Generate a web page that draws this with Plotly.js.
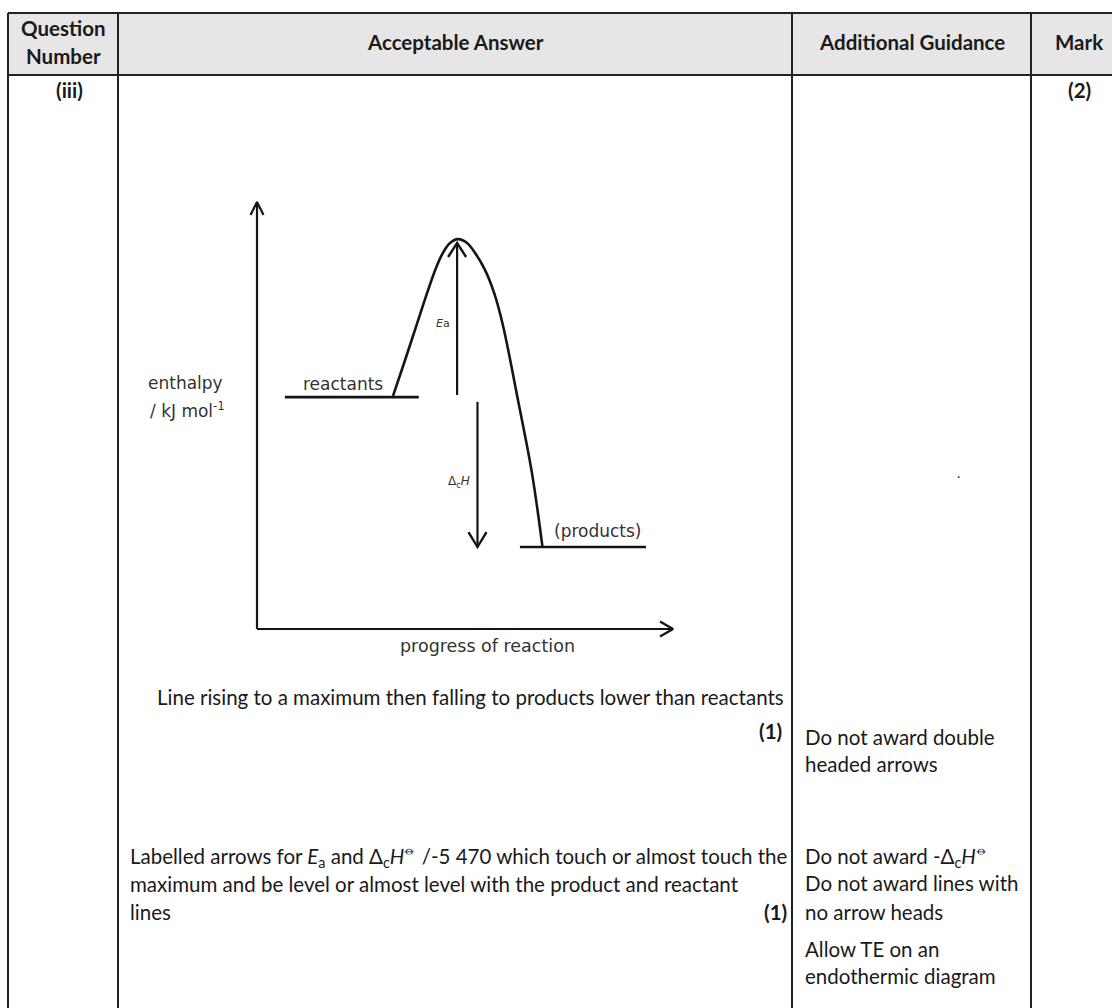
<!DOCTYPE html>
<html><head><meta charset="utf-8">
<script src="https://cdn.plot.ly/plotly-3.0.1.min.js"></script>
<style>html,body{margin:0;padding:0;background:#fff}</style>
</head><body><div id="chart" style="width:1112px;height:1008px"></div>
<script>
// ---- Diagram data (progress of reaction 0-10, enthalpy 0-10, arbitrary units) ----
const curveProgress  = [3.27, 3.56, 3.82, 4.09, 4.30, 4.47, 4.64, 4.83, 5.05, 5.26, 5.48, 5.70, 5.91, 6.26, 6.61, 6.86];
const curveEnthalpy  = [5.46, 6.30, 7.07, 7.87, 8.45, 8.81, 9.04, 9.13, 9.04, 8.78, 8.41, 7.87, 7.12, 5.43, 3.65, 1.94];
const reactantsProgress = [0.67, 3.89];
const reactantsEnthalpy = [5.43, 5.43];
const productsProgress  = [6.32, 9.35];
const productsEnthalpy  = [1.92, 1.92];
const eaArrowProgress = [4.81, 4.81];
const eaArrowEnthalpy = [5.48, 9.04];
const dhArrowProgress = [5.30, 5.30];
const dhArrowEnthalpy = [5.32, 1.92];
const axisMax = [10, 10];

// ---- Table texts ----
const headerLabels = ["Acceptable Answer", "Additional Guidance", "Mark"];
const headerQuestion = ["Question", "Number"];
const questionNumber = "(iii)";
const totalMark = "(2)";
const answer1 = "Line rising to a maximum then falling to products lower than reactants";
const answer2 = ["Labelled arrows for <i>E</i><sub>a</sub> and Δ<sub>c</sub><i>H</i><sup>⦵</sup> /-5 470 which touch or almost touch the",
                 "maximum and be level or almost level with the product and reactant",
                 "lines"];
const markLabel = "(1)";
const guidance1 = ["Do not award double", "headed arrows"];
const guidance2 = ["Do not award -Δ<sub>c</sub><i>H</i><sup>⦵</sup>", "Do not award lines with", "no arrow heads", "Allow TE on an", "endothermic diagram"];

// ---- Layout geometry (pixels) ----
const W = 1112, H = 1008;
const px = v => v / W, py = v => 1 - v / H;
const plotL = 257, plotR = 673, plotT = 202, plotB = 629;
const unitX = (plotR - plotL) / axisMax[0];
const unitY = (plotB - plotT) / axisMax[1];
const pad = 1; // range padding (units) so arrow heads are not clipped

const ink = '#151515';
function chevron(tipX, tipY, dirX, dirY, len, half) {
  const bx = -dirX * len, by = -dirY * len;
  const nx = -dirY * half, ny = dirX * half;
  const w1 = [bx + nx, by + ny], w2 = [bx - nx, by - ny];
  return {
    x: [tipX + w1[0] / unitX, tipX, tipX + w2[0] / unitX],
    y: [tipY - w1[1] / unitY, tipY, tipY - w2[1] / unitY]
  };
}
function lineTrace(x, y, w, extra) {
  return Object.assign({x, y, type: 'scatter', mode: 'lines', xaxis: 'x', yaxis: 'y',
    line: {color: ink, width: w}, hoverinfo: 'skip', showlegend: false}, extra || {});
}

const yTip = chevron(0, axisMax[1], 0, -1, 13, 6.5);
const xTip = chevron(axisMax[0], 0, 1, 0, 13, 7.5);
const eaTip = chevron(eaArrowProgress[1], eaArrowEnthalpy[1], 0, -1, 14, 9);
const dhTip = chevron(dhArrowProgress[1], dhArrowEnthalpy[1], 0, 1, 15, 9);

const traces = [
  lineTrace([0, 0], [0, axisMax[1]], 2.2),
  lineTrace([0, axisMax[0]], [0, 0], 2.2),
  lineTrace(yTip.x, yTip.y, 2.2),
  lineTrace(xTip.x, xTip.y, 2.4),
  lineTrace(reactantsProgress, reactantsEnthalpy, 2.6),
  lineTrace(productsProgress, productsEnthalpy, 2.6),
  lineTrace(curveProgress, curveEnthalpy, 2.6, {line: {color: ink, width: 2.6, shape: 'spline', smoothing: 1}}),
  lineTrace(eaArrowProgress, eaArrowEnthalpy, 2.2),
  lineTrace(eaTip.x, eaTip.y, 2.4),
  lineTrace(dhArrowProgress, dhArrowEnthalpy, 2.2),
  lineTrace(dhTip.x, dhTip.y, 2.4)
];

// ---- Table shapes ----
const border = '#222';
const colX = [8, 118, 792, 1031, 1127];
const topY = 13, headY = 75;
const shapes = [
  {type: 'rect', xref: 'paper', yref: 'paper', x0: px(colX[0]), x1: px(1112), y0: py(topY), y1: py(headY),
   fillcolor: '#e6e6e6', line: {width: 0}, layer: 'below'},
  {type: 'line', xref: 'paper', yref: 'paper', x0: px(colX[0]), x1: px(1112), y0: py(topY), y1: py(topY), line: {color: border, width: 2}},
  {type: 'line', xref: 'paper', yref: 'paper', x0: px(colX[0]), x1: px(1112), y0: py(headY), y1: py(headY), line: {color: border, width: 2}}
];
colX.forEach(c => shapes.push({type: 'line', xref: 'paper', yref: 'paper', x0: px(c), x1: px(c),
  y0: py(topY), y1: py(H + 5), line: {color: border, width: 2}}));

// ---- Annotations ----
const tableFont = 'Lato, "Open Sans", sans-serif';
const diagFont = '"DejaVu Sans", Verdana, sans-serif';
const ann = [];
function T(text, x, y, opts) {
  const o = opts || {};
  ann.push({text, x: px(x), y: py(y), xref: 'paper', yref: 'paper', showarrow: false,
    xanchor: o.anchor || 'left', yanchor: 'middle',
    font: {family: o.family || tableFont, size: o.size || 20.5, color: o.color || '#1a1a1a'}});
}
// header
T('<b>' + headerQuestion[0] + '</b>', 63, 28, {anchor: 'center'});
T('<b>' + headerQuestion[1] + '</b>', 63, 56, {anchor: 'center'});
T('<b>' + headerLabels[0] + '</b>', 455, 42, {anchor: 'center'});
T('<b>' + headerLabels[1] + '</b>', 911.5, 42, {anchor: 'center'});
T('<b>' + headerLabels[2] + '</b>', 1079, 42, {anchor: 'center'});
T('<b>' + questionNumber + '</b>', 69, 90, {anchor: 'center'});
T('<b>' + totalMark + '</b>', 1079, 90, {anchor: 'center'});
// answer column
T(answer1, 786, 697, {anchor: 'right'});
T('<b>' + markLabel + '</b>', 784, 731, {anchor: 'right'});
T(answer2[0], 128, 856);
T(answer2[1], 128, 884);
T(answer2[2], 128, 912);
T('<b>' + markLabel + '</b>', 789, 912, {anchor: 'right'});
// guidance column
T(guidance1[0], 803, 737);
T(guidance1[1], 803, 764);
const g2y = [856, 883, 912, 949, 976];
guidance2.forEach((t, i) => T(t, 803, g2y[i]));
T('.', 958, 472, {anchor: 'center', size: 14});
// diagram labels
const dcol = '#333';
T('enthalpy', 146, 383, {family: diagFont, size: 17, color: dcol});
T('/ kJ mol<sup>-1</sup>', 148, 410, {family: diagFont, size: 17, color: dcol});
T('reactants', 301, 384, {family: diagFont, size: 17, color: dcol});
T('(products)', 552, 531, {family: diagFont, size: 17, color: dcol});
T('progress of reaction', 398, 646, {family: diagFont, size: 17.5, color: dcol});
T('<i>E</i>a', 443, 323, {anchor: 'center', family: diagFont, size: 11, color: dcol});
T('Δ<sub>c</sub><i>H</i>', 459, 482, {anchor: 'center', family: diagFont, size: 12, color: dcol});

const layout = {
  width: W, height: H, margin: {l: 0, r: 0, t: 0, b: 0},
  paper_bgcolor: '#fff', plot_bgcolor: 'rgba(0,0,0,0)', showlegend: false,
  xaxis: {domain: [px(plotL - pad * unitX), px(plotR + pad * unitX)], range: [-pad, axisMax[0] + pad], visible: false, fixedrange: true},
  yaxis: {domain: [py(plotB + pad * unitY), py(plotT - pad * unitY)], range: [-pad, axisMax[1] + pad], visible: false, fixedrange: true},
  shapes, annotations: ann
};
Plotly.newPlot('chart', traces, layout, {staticPlot: true});
</script>
</body></html>
